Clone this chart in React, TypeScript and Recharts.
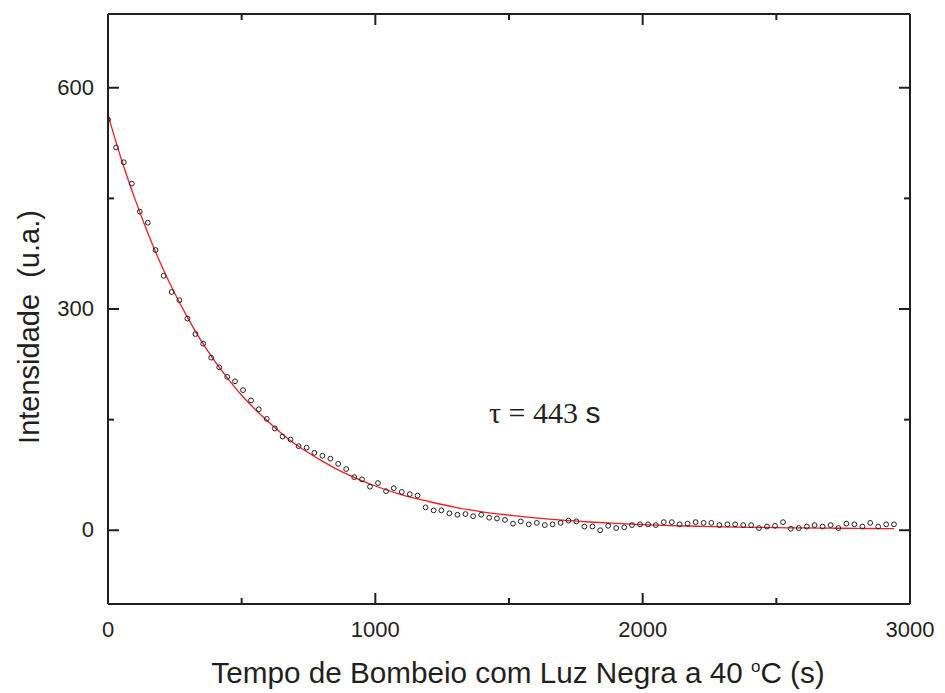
import React from 'react';
import { ComposedChart, Scatter, Line, XAxis, YAxis, Customized } from 'recharts';

// measured points (time in s, intensity in a.u.)
const times = [
  0, 30, 59, 89, 119, 149, 178, 208, 238, 267,
  297, 327, 356, 386, 416, 446, 475, 505, 535, 564,
  594, 624, 653, 683, 713, 743, 772, 802, 832, 861,
  891, 921, 950, 980, 1010, 1040, 1069, 1099, 1129, 1158,
  1188, 1218, 1247, 1277, 1307, 1337, 1366, 1396, 1426, 1455,
  1485, 1515, 1544, 1574, 1604, 1634, 1663, 1693, 1723, 1752,
  1782, 1812, 1841, 1871, 1901, 1931, 1960, 1990, 2020, 2049,
  2079, 2109, 2138, 2168, 2198, 2228, 2257, 2287, 2317, 2346,
  2376, 2406, 2435, 2465, 2495, 2525, 2554, 2584, 2614, 2643,
  2673, 2703, 2732, 2762, 2792, 2822, 2851, 2881, 2911, 2940,
];
const intensity = [
  557, 519, 499, 470, 432, 417, 380, 345, 323, 312,
  287, 266, 253, 234, 221, 208, 202, 190, 176, 164,
  151, 138, 127, 123, 114, 112, 105, 101, 97, 90,
  83, 72, 69, 59, 64, 53, 57, 52, 49, 47,
  31, 27, 27, 23, 21, 22, 19, 21, 17, 16,
  14, 9, 12, 8, 10, 7, 8, 10, 13, 12,
  5, 5, 0, 6, 3, 4, 7, 8, 8, 7,
  11, 11, 8, 9, 11, 10, 10, 7, 8, 8,
  7, 7, 3, 5, 6, 11, 2, 3, 5, 7,
  5, 7, 3, 9, 8, 5, 10, 5, 8, 8,
];

// exponential fit curve
const fitTimes = [
  0, 50, 100, 150, 200, 250, 300, 350, 400, 450, 500, 550, 600, 650, 700, 750, 800, 850, 900, 950,
  1000, 1100, 1200, 1300, 1400, 1500, 1600, 1700, 1800, 1900, 2000, 2100, 2200, 2300, 2400, 2500,
  2600, 2700, 2800, 2900, 2940,
];
const fitValues = [
  563, 503, 450, 402, 359, 321, 287, 256, 229, 205, 183, 164, 147, 131, 117, 105, 94, 84, 75, 67,
  60, 48, 39, 31, 25, 20.5, 16.7, 13.6, 11.2, 9.2, 7.6, 6.4, 5.4, 4.6, 4.0, 3.5,
  3.1, 2.8, 2.5, 2.3, 2.2,
];

const xTicks = [0, 500, 1000, 1500, 2000, 2500, 3000];
const xLabels = [0, 1000, 2000, 3000];
const yTicks = [0, 150, 300, 450, 600];
const yLabels = [0, 300, 600];

const INK = '#231f20';

const points = times.map((t, i) => ({ t, v: intensity[i] }));
const fit = fitTimes.map((t, i) => ({ t, v: fitValues[i] }));

const BottomTick = (props: any) => {
  const { x, y, payload } = props;
  const major = xLabels.includes(payload.value);
  return (
    <g>
      <line x1={x} x2={x} y1={y} y2={y - (major ? 11 : 6)} stroke={INK} strokeWidth={2} />
      {major && (
        <text x={x} y={y + 33} textAnchor="middle" fontSize={22} fill={INK}>
          {payload.value}
        </text>
      )}
    </g>
  );
};

const TopTick = (props: any) => {
  const { x, y, payload } = props;
  const major = xLabels.includes(payload.value);
  return <line x1={x} x2={x} y1={y} y2={y + (major ? 11 : 6)} stroke={INK} strokeWidth={2} />;
};

const LeftTick = (props: any) => {
  const { x, y, payload } = props;
  const major = yLabels.includes(payload.value);
  return (
    <g>
      <line x1={x} x2={x + (major ? 11 : 6)} y1={y} y2={y} stroke={INK} strokeWidth={2} />
      {major && (
        <text x={x - 14} y={y + 7} textAnchor="end" fontSize={22} fill={INK}>
          {payload.value}
        </text>
      )}
    </g>
  );
};

const RightTick = (props: any) => {
  const { x, y, payload } = props;
  const major = yLabels.includes(payload.value);
  return <line x1={x} x2={x - (major ? 11 : 6)} y1={y} y2={y} stroke={INK} strokeWidth={2} />;
};

const OpenCircle = (props: any) => (
  <circle cx={props.cx} cy={props.cy} r={2.4} fill="none" stroke={INK} strokeWidth={1} />
);

const Titles = () => (
  <g fill={INK}>
    <text x={518} y={683} textAnchor="middle" fontSize={29.7}>
      Tempo de Bombeio com Luz Negra a 40 <tspan dy={-11} fontSize={17}>o</tspan>
      <tspan dy={11}>C (s)</tspan>
    </text>
    <text
      transform="translate(39,327) rotate(-90)"
      textAnchor="middle"
      fontSize={29}
      style={{ whiteSpace: 'pre' }}
    >
      Intensidade  (u.a.)
    </text>
    <text x={489} y={423} fontSize={30}>
      <tspan fontFamily="'Liberation Serif', 'Times New Roman', serif">τ = 443 </tspan>
      <tspan>s</tspan>
    </text>
  </g>
);

export default function App() {
  return (
    <div
      style={{
        position: 'absolute',
        left: 0,
        top: 0,
        width: 945,
        height: 693,
        background: '#fff',
        fontFamily: "'Liberation Sans', Arial, sans-serif",
      }}
    >
      <ComposedChart width={945} height={693} margin={{ top: 13, right: 34, bottom: 0, left: 0 }}>
        <XAxis
          xAxisId="bottom"
          dataKey="t"
          type="number"
          domain={[0, 3000]}
          ticks={xTicks}
          allowDataOverflow
          height={89}
          tickSize={0}
          tickMargin={0}
          tickLine={false}
          axisLine={{ stroke: INK, strokeWidth: 2 }}
          tick={<BottomTick />}
          interval={0}
        />
        <XAxis
          xAxisId="top"
          orientation="top"
          dataKey="t"
          type="number"
          domain={[0, 3000]}
          ticks={xTicks}
          allowDataOverflow
          height={1}
          tickSize={0}
          tickMargin={0}
          tickLine={false}
          axisLine={{ stroke: INK, strokeWidth: 2 }}
          tick={<TopTick />}
          interval={0}
        />
        <YAxis
          yAxisId="left"
          dataKey="v"
          type="number"
          domain={[-100, 700]}
          ticks={yTicks}
          allowDataOverflow
          width={108}
          tickSize={0}
          tickMargin={0}
          tickLine={false}
          axisLine={{ stroke: INK, strokeWidth: 2 }}
          tick={<LeftTick />}
          interval={0}
        />
        <YAxis
          yAxisId="right"
          orientation="right"
          dataKey="v"
          type="number"
          domain={[-100, 700]}
          ticks={yTicks}
          allowDataOverflow
          width={1}
          tickSize={0}
          tickMargin={0}
          tickLine={false}
          axisLine={{ stroke: INK, strokeWidth: 2 }}
          tick={<RightTick />}
          interval={0}
        />
        <Line
          data={fit}
          xAxisId="top"
          yAxisId="right"
          dataKey="v"
          type="monotone"
          stroke="#ee1c24"
          strokeWidth={1.3}
          dot={false}
          isAnimationActive={false}
        />
        <Scatter
          data={points}
          xAxisId="bottom"
          yAxisId="left"
          dataKey="v"
          shape={<OpenCircle />}
          isAnimationActive={false}
        />
        <Customized component={Titles} />
      </ComposedChart>
    </div>
  );
}
